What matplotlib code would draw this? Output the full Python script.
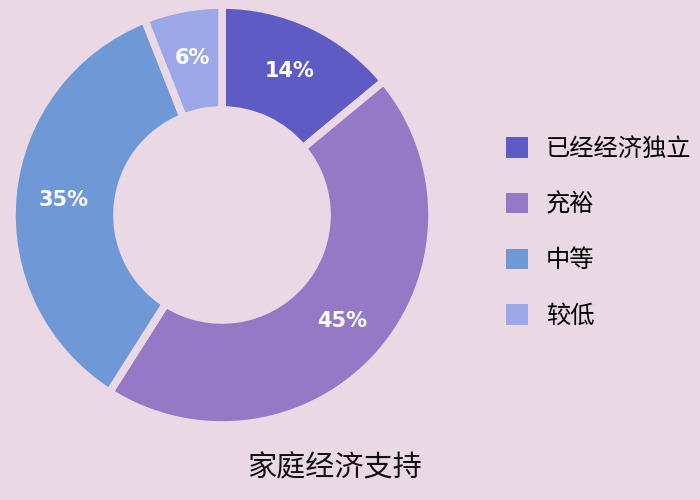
import matplotlib
matplotlib.use("Agg")
import matplotlib.pyplot as plt
from matplotlib.patches import Patch

plt.rcParams['font.family'] = ['Noto Sans CJK SC', 'DejaVu Sans']

# data
labels = ['已经经济独立', '充裕', '中等', '较低']
values = [14, 45, 35, 6]
colors = ['#5f5bc4', '#9579c6', '#6e98d6', '#9ba7e6']
bg = '#ead8e4'
title = '家庭经济支持'

fig = plt.figure(figsize=(7, 5), dpi=100, facecolor=bg)
ax = fig.add_axes([12/700, 75/500, 420/700, 420/500])
ax.set_facecolor(bg)

wedges, texts, autotexts = ax.pie(
    values, colors=colors, startangle=90, counterclock=False,
    radius=1.02, autopct='%d%%', pctdistance=0.76,
    wedgeprops=dict(width=0.51, edgecolor=bg, linewidth=5.5),
    textprops=dict(color='white', fontsize=15, fontweight='bold',
                   family=['DejaVu Sans']))
ax.set_xlim(-1.02, 1.02)
ax.set_ylim(-1.02, 1.02)
ax.set_aspect('equal')
ax.axis('off')

handles = [Patch(facecolor=c, edgecolor='none') for c in colors]
fig.legend(handles, labels, loc='upper left',
           bbox_to_anchor=(484/700, 1 - 114/500), frameon=False,
           fontsize=17.5, handlelength=0.9, handleheight=0.9,
           labelspacing=1.22, handletextpad=0.75)

fig.text(335/700, 1 - 468/500, title, ha='center', va='center',
         fontsize=21, color='#111111')

fig.savefig('out.png', dpi=100, facecolor=bg)
